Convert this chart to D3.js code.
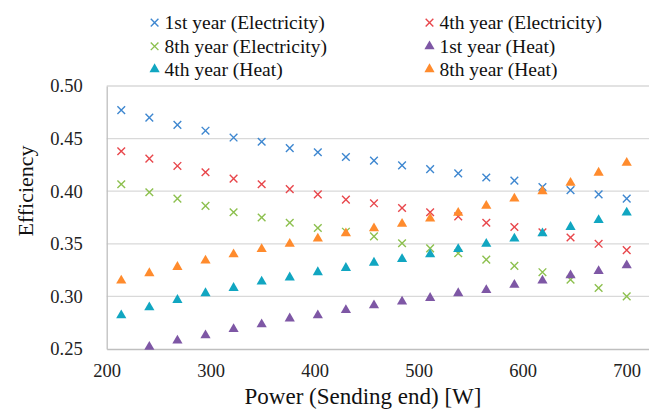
<!DOCTYPE html>
<html>
<head>
<meta charset="utf-8">
<script src="https://cdn.jsdelivr.net/npm/d3@7"></script>
<style>
  body { margin: 0; background: #fff; }
  svg text { font-family: "Liberation Serif", "DejaVu Serif", "Times New Roman", Tinos, serif !important; }
</style>
</head>
<body>
<script>
// Data
const power = [214, 241, 268, 295, 322, 349, 376, 403, 430, 457, 484, 511, 538, 565, 592, 619, 646, 673, 700];
const elec1st = [0.477, 0.470, 0.463, 0.4575, 0.451, 0.447, 0.441, 0.437, 0.4325, 0.429, 0.4246, 0.421, 0.417, 0.413, 0.410, 0.404, 0.401, 0.397, 0.393];
const elec4th = [0.438, 0.431, 0.424, 0.418, 0.412, 0.4066, 0.402, 0.397, 0.392, 0.3885, 0.384, 0.380, 0.376, 0.370, 0.366, 0.361, 0.356, 0.350, 0.344];
const elec8th = [0.4066, 0.399, 0.393, 0.386, 0.380, 0.375, 0.370, 0.365, 0.3615, 0.357, 0.3505, 0.3457, 0.341, 0.335, 0.329, 0.323, 0.316, 0.308, 0.300];
const heat1st = [null, 0.252, 0.258, 0.263, 0.269, 0.2735, 0.279, 0.282, 0.287, 0.2915, 0.295, 0.2985, 0.303, 0.306, 0.311, 0.315, 0.320, 0.324, 0.3295];
const heat4th = [0.282, 0.2896, 0.2966, 0.303, 0.308, 0.314, 0.318, 0.323, 0.327, 0.332, 0.3355, 0.340, 0.345, 0.350, 0.355, 0.360, 0.366, 0.3726, 0.3796];
const heat8th = [0.315, 0.322, 0.328, 0.334, 0.340, 0.345, 0.350, 0.355, 0.360, 0.3647, 0.369, 0.374, 0.3795, 0.386, 0.393, 0.400, 0.408, 0.4176, 0.427];
const xTicks = [200, 300, 400, 500, 600, 700];
const yTicks = [0.25, 0.30, 0.35, 0.40, 0.45, 0.50];

const series = [
  { name: "1st year (Electricity)", values: elec1st, shape: "x", color: "#3E87D0" },
  { name: "4th year (Electricity)", values: elec4th, shape: "x", color: "#E8474C" },
  { name: "8th year (Electricity)", values: elec8th, shape: "x", color: "#8DC04F" },
  { name: "1st year (Heat)", values: heat1st, shape: "tri", color: "#7E57A5" },
  { name: "4th year (Heat)", values: heat4th, shape: "tri", color: "#11A6C1" },
  { name: "8th year (Heat)", values: heat8th, shape: "tri", color: "#FF8B2D" }
];

// Set up the SVG
const width = 649;
const height = 412;
const plotLeft = 106.7, plotTop = 86, plotBottom = 349;

const svg = d3.select("body")
  .append("svg")
  .attr("width", width)
  .attr("height", height);

// Scales
const xScale = d3.scaleLinear()
  .domain([200, 750])
  .range([plotLeft, plotLeft + 550 * 1.04]);

const yScale = d3.scaleLinear()
  .domain([0.25, 0.50])
  .range([plotBottom, plotTop]);

// Gridlines
svg.append("g")
  .selectAll("line")
  .data(yTicks.slice(1))
  .enter()
  .append("line")
  .attr("x1", plotLeft)
  .attr("x2", width)
  .attr("y1", (d) => yScale(d))
  .attr("y2", (d) => yScale(d))
  .attr("stroke", "#d9d9d9")
  .attr("stroke-width", 1.3);

// Axes
const yAxis = svg.append("g")
  .attr("transform", `translate(${plotLeft}, 0)`)
  .call(d3.axisLeft(yScale).tickValues(yTicks).tickFormat(d3.format(".2f")).tickSize(0).tickPadding(24));

const xAxis = svg.append("g")
  .attr("transform", `translate(0, ${plotBottom})`)
  .call(d3.axisBottom(xScale).tickValues(xTicks).tickSize(0).tickPadding(15));

xAxis.select(".domain").attr("stroke", "#bfbfbf").attr("stroke-width", 1.3);
yAxis.select(".domain").attr("stroke", "#bfbfbf").attr("stroke-width", 1.3);

svg.selectAll(".tick text")
  .attr("font-size", 18.5)
  .attr("fill", "#222");

// Axis titles
svg.append("text")
  .attr("x", 363)
  .attr("y", 404)
  .attr("text-anchor", "middle")
  .attr("font-size", 23)
  .attr("fill", "#111")
  .text("Power (Sending end) [W]");

svg.append("text")
  .attr("transform", "translate(33, 191) rotate(-90)")
  .attr("text-anchor", "middle")
  .attr("font-size", 22)
  .attr("fill", "#111")
  .text("Efficiency");

// Markers
const crossSym = d3.symbol().type(d3.symbolTimes).size(40);
const triSym = d3.symbol().type(d3.symbolTriangle).size(45);

function drawMarker(g, s) {
  if (s.shape === "x") {
    g.attr("d", crossSym()).attr("fill", "none").attr("stroke", s.color).attr("stroke-width", 1.4);
  } else {
    g.attr("d", triSym()).attr("fill", s.color);
  }
}

series.forEach((s) => {
  const pts = power
    .map((p, i) => ({ x: p, y: s.values[i] }))
    .filter((d) => d.y !== null);
  svg.append("g")
    .selectAll("path")
    .data(pts)
    .enter()
    .append("path")
    .attr("transform", (d) => `translate(${xScale(d.x)}, ${yScale(d.y)})`)
    .call((g) => drawMarker(g, s));
});

// Legend
const legendCols = [154.6, 429.5];
const legendRows = [22.6, 46.3, 69.2];

series.forEach((s, i) => {
  const lx = legendCols[i % 2];
  const ly = legendRows[Math.floor(i / 2)];
  const item = svg.append("g").attr("transform", `translate(${lx}, ${ly})`);
  item.append("path").call((g) => drawMarker(g, s));
  item.append("text")
    .attr("x", 10)
    .attr("y", 0)
    .attr("dy", "0.33em")
    .attr("font-size", 19.5)
    .attr("fill", "#111")
    .text(s.name);
});
</script>
</body>
</html>
